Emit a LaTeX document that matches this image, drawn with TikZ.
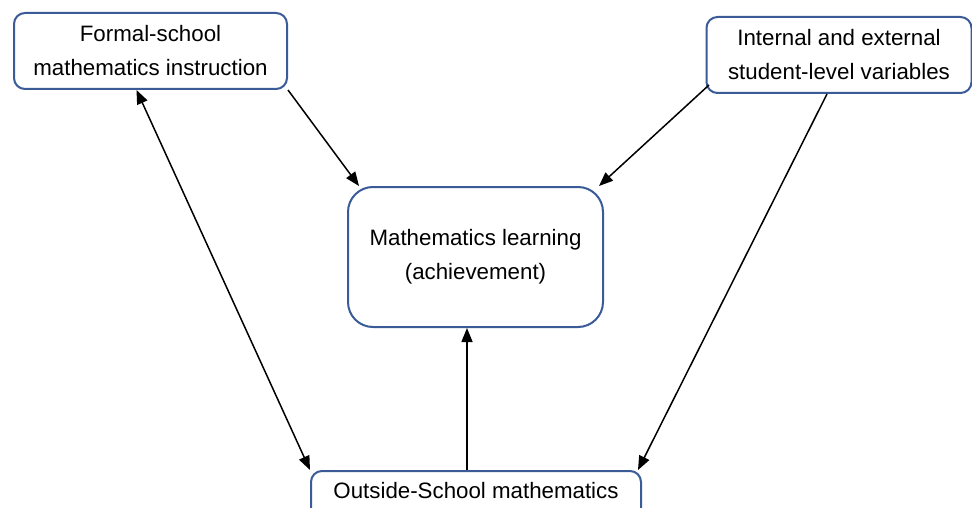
\documentclass[tikz,border=0pt]{standalone}
\usepackage{fontspec}
\setmainfont{Liberation Sans}
\usetikzlibrary{arrows.meta,calc}
\definecolor{boxblue}{RGB}{58,90,152}
\begin{document}
\begin{tikzpicture}[x=1pt,y=-1pt,
  box/.style={draw=boxblue,line width=2pt,fill=white,align=center,
    font=\fontsize{22.3}{34}\selectfont,inner sep=0pt},
  arr/.style={line width=1.5pt,-{Triangle[length=14pt,width=11pt]}},
  darr/.style={line width=1.5pt,{Triangle[length=14pt,width=11pt]}-{Triangle[length=14pt,width=11pt]}}]
\clip (0,0) rectangle (972,508);
\fill[white] (0,0) rectangle (972,508);
\node[box,rounded corners=11pt,minimum width=273pt,minimum height=76pt] (formal) at (150.5,51)
  {Formal-school\\mathematics instruction};
\node[box,rounded corners=11pt,minimum width=265pt,minimum height=76pt] (inner) at (839,55)
  {Internal and external\\student-level variables};
\node[box,rounded corners=25pt,minimum width=255pt,minimum height=140pt] (learn) at (475.5,257)
  {Mathematics learning\\(achievement)};
\node[box,rounded corners=11pt,minimum width=330pt,anchor=north,text height=16pt,text depth=30pt,inner ysep=11pt] (outside) at (476,470)
  {Outside-School mathematics};
\draw[arr] (formal.south east) -- ($(learn.north west)+(12,0)$);
\draw[arr] ($(inner.south west)+(3.5,-9)$) -- ($(learn.north east)+(-5,0)$);
\draw[arr] ($(inner.south)+(-12,0)$) -- ($(outside.north east)+(-4,0)$);
\draw[darr] ($(formal.south)+(-14,0)$) -- (outside.north west);
\draw[arr] ($(outside.north)+(-9,0)$) -- ($(learn.south)+(-8.5,0)$);
\end{tikzpicture}
\end{document}
